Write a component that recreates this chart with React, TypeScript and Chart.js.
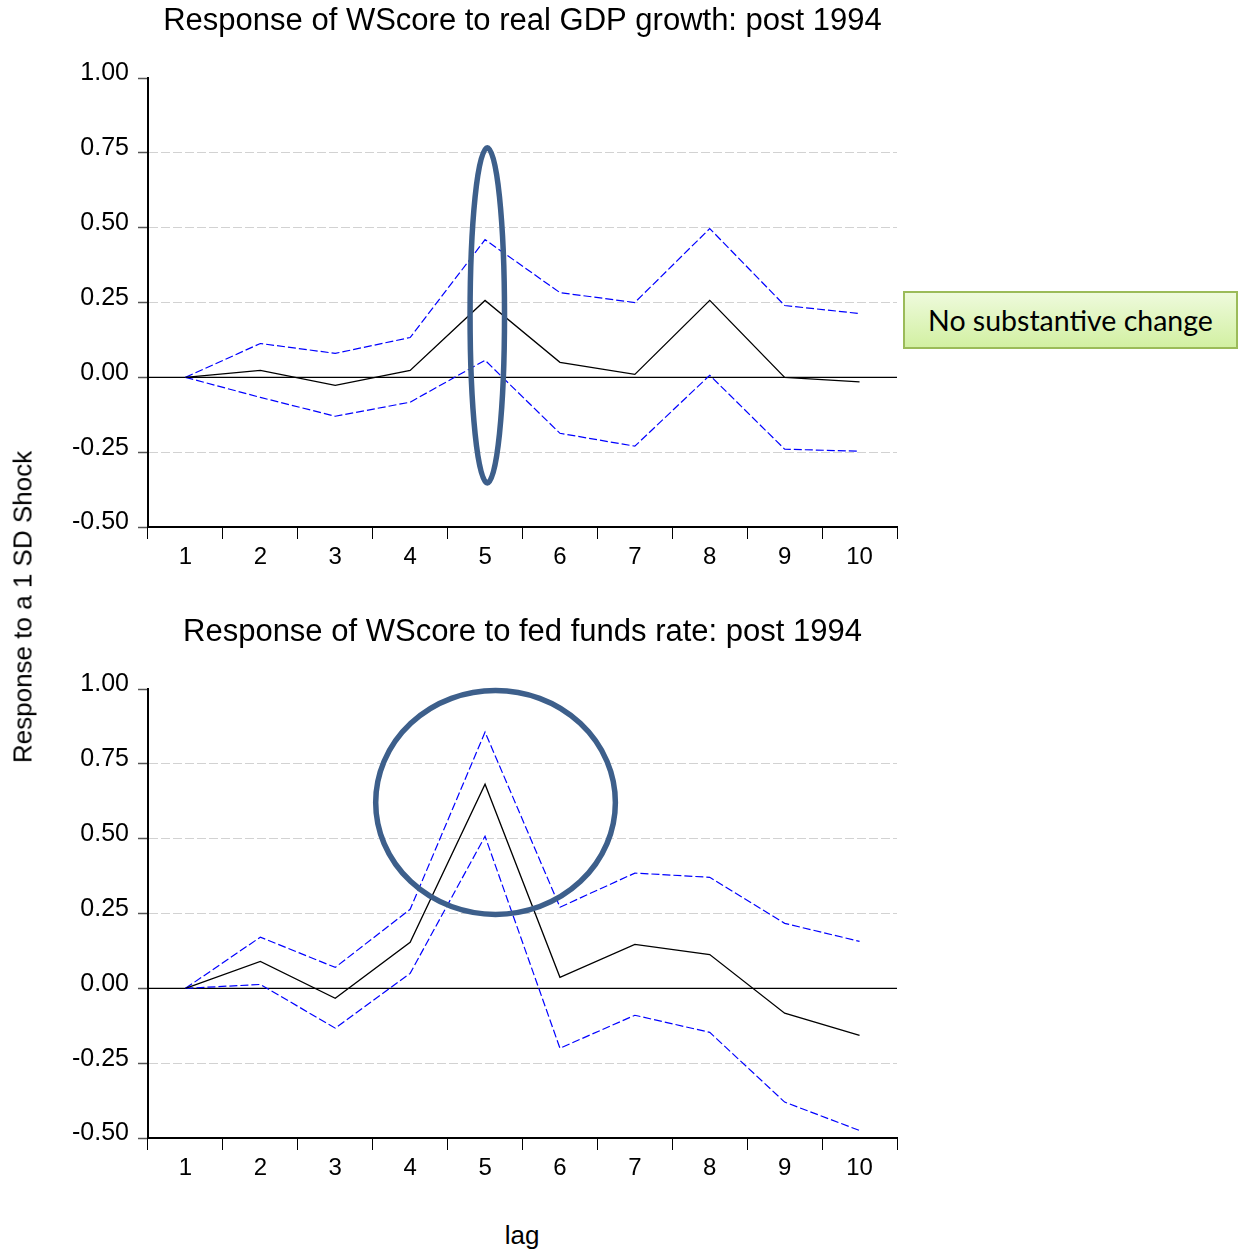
import React, { useEffect, useRef } from 'react';
import { Chart, registerables } from 'chart.js';

Chart.register(...registerables);

// ---------- data ----------
const lags = ['1', '2', '3', '4', '5', '6', '7', '8', '9', '10'];

const gdpResponse = [0, 0.023, -0.027, 0.023, 0.257, 0.05, 0.01, 0.257, 0.0, -0.015];
const gdpUpper = [0, 0.113, 0.08, 0.133, 0.46, 0.283, 0.25, 0.497, 0.24, 0.213];
const gdpLower = [0, -0.067, -0.13, -0.083, 0.057, -0.187, -0.23, 0.007, -0.24, -0.247];

const ffrResponse = [0, 0.09, -0.033, 0.154, 0.682, 0.037, 0.147, 0.113, -0.083, -0.157];
const ffrUpper = [0, 0.171, 0.07, 0.264, 0.856, 0.271, 0.385, 0.371, 0.217, 0.157];
const ffrLower = [0, 0.013, -0.133, 0.05, 0.508, -0.2, -0.09, -0.147, -0.38, -0.475];

const yMin = -0.5;
const yMax = 1.0;
const yStep = 0.25;

const titleGdp = 'Response of WScore to real GDP growth: post 1994';
const titleFfr = 'Response of WScore to fed funds rate: post 1994';
const yAxisTitle = 'Response to a 1 SD Shock';
const xAxisTitle = 'lag';
const noteText = 'No substantive change';

// highlight ellipses, in data units (category index, value)
const gdpEllipse = { index: 4, dx: 0.03, yCenter: 0.207, rxBands: 0.23, ry: 0.56 };
const ffrEllipse = { index: 4, dx: 0.14, yCenter: 0.621, rxBands: 1.6, ry: 0.374 };

const FONT = '"Liberation Sans", Arial, sans-serif';

const overlayPlugin = {
  id: 'overlay',
  beforeDatasetsDraw(chart: any) {
    const { ctx, chartArea, scales } = chart;
    const py = scales.y.getPixelForValue(0);
    ctx.save();
    ctx.strokeStyle = '#000';
    ctx.lineWidth = 1.2;
    ctx.beginPath();
    ctx.moveTo(chartArea.left, py);
    ctx.lineTo(chartArea.right, py);
    ctx.stroke();
    ctx.restore();
  },
  afterDatasetsDraw(chart: any, _args: any, opts: any) {
    const e = opts && opts.ellipse;
    if (!e) return;
    const { ctx, chartArea, scales } = chart;
    const band = (chartArea.right - chartArea.left) / lags.length;
    const cx = scales.x.getPixelForValue(e.index) + e.dx * band;
    const cy = scales.y.getPixelForValue(e.yCenter);
    const rx = e.rxBands * band;
    const ry = Math.abs(scales.y.getPixelForValue(e.yCenter + e.ry) - cy);
    ctx.save();
    ctx.strokeStyle = '#3d5f8b';
    ctx.lineWidth = 5.5;
    ctx.beginPath();
    ctx.ellipse(cx, cy, rx, ry, 0, 0, Math.PI * 2);
    ctx.stroke();
    ctx.restore();
  },
};

function isEdgeOrZero(v: number) {
  return Math.abs(v) < 1e-9 || Math.abs(v - yMax) < 1e-9 || Math.abs(v - yMin) < 1e-9;
}

function ImpulseChart(props: {
  title: string;
  resp: number[];
  upper: number[];
  lower: number[];
  ellipse: any;
  top: number;
}) {
  const ref = useRef<HTMLCanvasElement>(null);
  useEffect(() => {
    const chart = new Chart(ref.current as HTMLCanvasElement, {
      type: 'line',
      data: {
        labels: lags,
        datasets: [
          {
            data: props.resp,
            borderColor: '#000000',
            borderWidth: 1.3,
            pointRadius: 0,
            fill: false,
            tension: 0,
          },
          {
            data: props.upper,
            borderColor: '#0000ff',
            borderWidth: 1.2,
            borderDash: [8, 3],
            pointRadius: 0,
            fill: false,
            tension: 0,
          },
          {
            data: props.lower,
            borderColor: '#0000ff',
            borderWidth: 1.2,
            borderDash: [8, 3],
            pointRadius: 0,
            fill: false,
            tension: 0,
          },
        ],
      },
      options: {
        animation: false,
        responsive: false,
        layout: { padding: { left: 0, right: 3, top: 0, bottom: 13 } },
        plugins: {
          legend: { display: false },
          tooltip: { enabled: false },
          title: {
            display: true,
            text: props.title,
            fullSize: false,
            color: '#000',
            font: { family: FONT, size: 31, weight: 'normal', lineHeight: 1.2 },
            padding: { top: 2.4, bottom: 38.4 },
          },
          overlay: { ellipse: props.ellipse },
        } as any,
        scales: {
          x: {
            type: 'category',
            offset: true,
            afterFit: (s: any) => {
              s.height = 60;
            },
            grid: {
              offset: true,
              drawOnChartArea: false,
              drawTicks: true,
              tickLength: 12,
              tickColor: '#000',
              tickWidth: 1,
            },
            border: { display: true, color: '#000', width: 2 },
            ticks: {
              color: '#000',
              font: { family: FONT, size: 24 },
              padding: 4,
              maxRotation: 0,
              autoSkip: false,
            },
          },
          y: {
            min: yMin,
            max: yMax,
            afterFit: (s: any) => {
              s.width = 148;
            },
            grid: {
              color: (c: any) =>
                c.tick && isEdgeOrZero(c.tick.value) ? 'rgba(0,0,0,0)' : '#d2d2d2',
              lineWidth: 1,
              drawTicks: true,
              tickLength: 10,
              tickColor: '#555',
              tickWidth: 1.5,
            },
            border: { display: true, color: '#000', width: 2, dash: [9, 3] },
            ticks: {
              stepSize: yStep,
              color: '#000',
              font: { family: FONT, size: 25, lineHeight: 0.36 },
              padding: 9,
              // second empty line lifts each label slightly above its tick, as in the original
              callback: (v: any) => [Number(v).toFixed(2), ''],
            },
          },
        },
      } as any,
      plugins: [overlayPlugin],
    });
    return () => chart.destroy();
  }, []);
  return (
    <canvas
      ref={ref}
      width={900}
      height={600}
      style={{ position: 'absolute', left: 0, top: props.top, display: 'block', width: 900, height: 600 }}
    />
  );
}

export default function App() {
  return (
    <div
      style={{
        position: 'absolute',
        left: 0,
        top: 0,
        width: 1239,
        height: 1252,
        overflow: 'hidden',
        background: '#fff',
        fontFamily: FONT,
      }}
    >
      <ImpulseChart title={titleGdp} resp={gdpResponse} upper={gdpUpper} lower={gdpLower} ellipse={gdpEllipse} top={0} />
      <ImpulseChart title={titleFfr} resp={ffrResponse} upper={ffrUpper} lower={ffrLower} ellipse={ffrEllipse} top={611} />
      <div
        style={{
          position: 'absolute',
          left: 23,
          top: 607,
          transform: 'translate(-50%, -50%) rotate(-90deg)',
          whiteSpace: 'nowrap',
          fontSize: 26,
          color: '#000',
          fontFamily: FONT,
        }}
      >
        {yAxisTitle}
      </div>
      <div
        style={{
          position: 'absolute',
          left: 522,
          top: 1235,
          transform: 'translate(-50%, -50%)',
          whiteSpace: 'nowrap',
          fontSize: 26,
          color: '#000',
          fontFamily: FONT,
        }}
      >
        {xAxisTitle}
      </div>
      <div
        style={{
          position: 'absolute',
          left: 903,
          top: 291,
          width: 335,
          height: 58,
          boxSizing: 'border-box',
          border: '2px solid #9bbb59',
          background: 'linear-gradient(#eefadc, #d2f0a2)',
          display: 'flex',
          alignItems: 'center',
          justifyContent: 'center',
          fontFamily: 'Lato, "Noto Sans", sans-serif',
          fontSize: 28.5,
          color: '#000',
          whiteSpace: 'nowrap',
        }}
      >
        {noteText}
      </div>
    </div>
  );
}
